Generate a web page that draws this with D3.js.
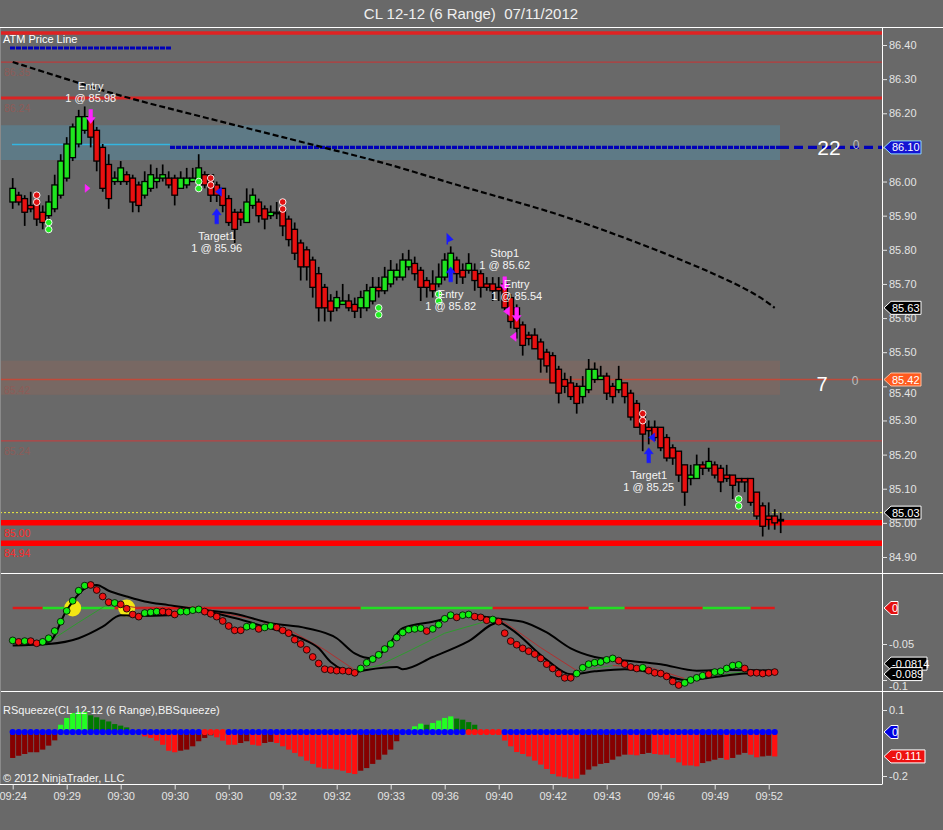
<!DOCTYPE html>
<html><head><meta charset="utf-8">
<script src="https://cdn.jsdelivr.net/npm/d3@7"></script>
<style>
body{margin:0;background:#696969;}
svg{display:block;font-family:"Liberation Sans",Arial,sans-serif;}
</style>
</head><body>
<svg id="c" width="943" height="830"></svg>
<script>
// ---------------- DATA ----------------
const chartTitle = "CL 12-12 (6 Range)  07/11/2012";
const opens = [
85.94,85.96,85.95,85.93,85.94,85.91,85.90,85.92,85.96,86.01,
86.07,86.11,86.15,86.18,86.15,86.10,86.05,86.00,86.00,86.02,
86.01,85.99,85.96,85.98,86.00,86.01,86.01,86.01,85.98,85.99,
86.00,86.00,86.02,86.02,85.99,85.98,85.95,85.91,85.91,85.88,
85.93,85.94,85.92,85.90,85.91,85.92,85.89,85.86,85.82,85.80,
85.77,85.73,85.69,85.65,85.63,85.64,85.65,85.64,85.63,85.63,
85.65,85.69,85.68,85.70,85.72,85.72,85.75,85.76,85.74,85.71,
85.70,85.70,85.72,85.74,85.77,85.74,85.74,85.74,85.73,85.70,
85.70,85.69,85.70,85.66,85.63,85.58,85.55,85.55,85.53,85.50,
85.49,85.45,85.42,85.41,85.40,85.37,85.39,85.42,85.42,85.43,
85.40,85.39,85.41,85.38,85.35,85.32,85.28,85.28,85.28,85.25,
85.22,85.21,85.17,85.13,85.13,85.17,85.16,85.17,85.16,85.14,
85.14,85.13,85.13,85.13,85.09,85.05,85.02,85.02,85.01];
const highs = [
86.01,85.97,85.96,85.97,85.96,85.93,85.96,86.02,86.08,86.13,
86.17,86.21,86.22,86.19,86.16,86.11,86.08,86.03,86.06,86.03,
86.02,86.00,86.03,86.05,86.04,86.05,86.03,86.02,86.03,86.04,
86.04,86.08,86.03,86.02,86.00,85.98,85.96,85.92,85.92,85.98,
85.98,85.95,85.93,85.93,85.94,85.92,85.90,85.88,85.83,85.81,
85.78,85.75,85.70,85.67,85.68,85.70,85.67,85.66,85.68,85.70,
85.72,85.72,85.75,85.77,85.76,85.79,85.80,85.78,85.75,85.72,
85.74,85.76,85.79,85.81,85.78,85.76,85.79,85.76,85.74,85.72,
85.72,85.72,85.71,85.67,85.64,85.59,85.56,85.57,85.54,85.51,
85.50,85.46,85.44,85.43,85.41,85.43,85.48,85.47,85.46,85.44,
85.41,85.46,85.41,85.39,85.36,85.33,85.30,85.30,85.28,85.26,
85.23,85.21,85.17,85.17,85.20,85.18,85.22,85.18,85.17,85.17,
85.14,85.13,85.13,85.13,85.09,85.06,85.06,85.04,85.03];
const lows = [
85.92,85.93,85.87,85.91,85.87,85.86,85.86,85.91,85.95,86.00,
86.06,86.10,86.14,86.10,86.03,85.97,85.92,85.99,85.99,85.99,
85.91,85.91,85.95,85.97,85.98,86.00,85.98,85.93,85.98,85.98,
86.00,85.99,85.98,85.94,85.94,85.91,85.87,85.82,85.87,85.88,
85.92,85.88,85.86,85.89,85.89,85.84,85.81,85.77,85.71,85.71,
85.66,85.59,85.59,85.59,85.62,85.64,85.62,85.60,85.60,85.62,
85.64,85.66,85.67,85.69,85.71,85.71,85.74,85.71,85.65,85.66,
85.66,85.69,85.71,85.71,85.70,85.70,85.73,85.68,85.66,85.68,
85.65,85.65,85.62,85.57,85.54,85.49,85.52,85.51,85.44,85.44,
85.41,85.35,85.38,85.36,85.32,85.35,85.38,85.41,85.42,85.36,
85.35,85.38,85.35,85.30,85.28,85.21,85.23,85.24,85.21,85.18,
85.17,85.12,85.05,85.11,85.13,85.14,85.15,85.13,85.09,85.12,
85.07,85.09,85.09,85.05,85.01,84.96,84.98,84.98,84.97];
const closes = [
85.98,85.94,85.91,85.92,85.89,85.88,85.94,85.99,86.06,86.11,
86.16,86.19,86.19,86.13,86.06,85.98,85.95,86.01,86.04,86.00,
85.94,85.93,86.00,86.02,86.01,86.02,85.99,85.96,86.01,86.01,
86.01,86.04,85.99,85.96,85.96,85.93,85.88,85.86,85.89,85.94,
85.96,85.90,85.89,85.91,85.91,85.87,85.83,85.79,85.75,85.75,
85.69,85.63,85.63,85.62,85.66,85.65,85.63,85.62,85.66,85.68,
85.69,85.68,85.72,85.74,85.74,85.77,85.77,85.73,85.69,85.69,
85.68,85.72,85.77,85.79,85.73,85.72,85.76,85.71,85.69,85.69,
85.68,85.68,85.63,85.59,85.57,85.52,85.54,85.51,85.48,85.46,
85.41,85.38,85.40,85.37,85.35,85.40,85.45,85.45,85.43,85.38,
85.37,85.42,85.37,85.31,85.28,85.26,85.27,85.25,85.22,85.19,
85.19,85.14,85.09,85.14,85.17,85.16,85.18,85.14,85.12,85.13,
85.11,85.12,85.12,85.06,85.02,84.99,85.01,85.00,85.01];

const timeLabels = ["09:24","09:29","09:30","09:30","09:30","09:32","09:32","09:33","09:36","09:40","09:42","09:43","09:46","09:49","09:52"];
const timeLabelBars = [0,9,18,27,36,45,54,63,72,81,90,99,108,117,126];
const priceTicks = [86.40,86.30,86.20,86.10,86.00,85.90,85.80,85.70,85.60,85.50,85.40,85.30,85.20,85.10,85.00,84.90];

// moving average (dashed)
const smaBars = [0,9,18,27,36,45,54,63,72,81,90,99,108,117,124,127];
const smaValues = [86.35,86.30,86.25,86.21,86.17,86.13,86.09,86.05,86.00,85.955,85.91,85.855,85.795,85.73,85.67,85.63];

// horizontal price levels
const levelPrices = [86.435,86.35,86.245,85.42,85.24,85.03,85.00,84.94];
const levelLabels = ["","86.35","86.24","85.42","85.24","","85.00","84.94"];
const atmPrice = 86.10;
const zoneBlue = [86.165,86.063];
const zoneRed = [85.475,85.375];

// signal dots
const redDotBars = [4,33,45,105];
const redDotPrices = [85.96,86.01,85.94,85.32];
const greenDotBars = [6,31,61,71,121];
const greenDotPrices = [85.88,86.00,85.63,85.67,85.07];

// execution markers
const markerKind = ["downM","upB","upB","upB","downM","downM","rightM","leftB","leftB","flagB","leftM","leftM"];
const markerBar = [13,34,106,73,82,84,12.4,34.3,106.5,72.6,82.3,83.4];
const markerPrice = [86.17,85.92,85.22,85.75,85.68,85.59,85.98,85.97,85.25,85.83,85.62,85.545];

// execution texts
const annoTitle = ["Entry","Target1","Entry","Stop1","Entry","Target1"];
const annoDetail = ["1 @ 85.98","1 @ 85.96","1 @ 85.82","1 @ 85.62","1 @ 85.54","1 @ 85.25"];
const annoBar = [13,34,73,82,84,106];
const annoPrice = [86.28,85.84,85.67,85.79,85.70,85.14];

// right axis tags
const priceTagValues = [86.10,85.63,85.42,85.03];
const priceTagTexts = ["86.10","85.63","85.42","85.03"];

// MACD-like panel
const macd = [
-0.045,-0.047,-0.046,-0.046,-0.049,-0.047,-0.042,-0.032,-0.019,-0.004,
0.010,0.024,0.031,0.032,0.025,0.016,0.008,0.007,0.005,-0.001,
-0.009,-0.012,-0.007,-0.006,-0.005,-0.005,-0.006,-0.009,-0.005,-0.005,
-0.003,-0.002,-0.005,-0.008,-0.012,-0.018,-0.025,-0.031,-0.031,-0.026,
-0.025,-0.029,-0.027,-0.025,-0.027,-0.031,-0.035,-0.044,-0.050,-0.058,
-0.068,-0.077,-0.085,-0.086,-0.087,-0.087,-0.088,-0.090,-0.084,-0.076,
-0.071,-0.065,-0.057,-0.050,-0.041,-0.034,-0.030,-0.029,-0.028,-0.032,
-0.029,-0.023,-0.015,-0.010,-0.013,-0.010,-0.009,-0.012,-0.013,-0.017,
-0.016,-0.019,-0.035,-0.046,-0.051,-0.056,-0.060,-0.064,-0.070,-0.078,
-0.084,-0.091,-0.097,-0.097,-0.091,-0.083,-0.078,-0.076,-0.075,-0.072,
-0.070,-0.073,-0.078,-0.082,-0.084,-0.083,-0.087,-0.090,-0.091,-0.095,
-0.102,-0.107,-0.104,-0.100,-0.097,-0.094,-0.092,-0.089,-0.088,-0.084,
-0.080,-0.079,-0.084,-0.090,-0.090,-0.091,-0.090,-0.089];
const macdColors =
"GRGRRGGGGG"+"GGGRRRRGRR"+"RRGGGRRRGG"+"GGRRRRRRRG"+"GRGGRRRRRR"+
"RRRRRRRRGG"+"GGGGGGGGGR"+"GGGGRGGRRR"+"GRRRRRRRRR"+"RRRRGGGGGG"+
"GRRRRGRRRR"+"RRGGGGRGGG"+"GGRRRRRR";
const upperBars = [0,6,9,12,14,16,19,22,26,31,37,43,49,54,57,60,62,65,70,76,81,85,89,93,97,102,108,114,119,127];
const upperValues = [-0.048,-0.047,-0.003,0.027,0.032,0.024,0.016,0.009,0.004,-0.002,-0.008,-0.021,-0.028,-0.042,-0.063,-0.070,-0.058,-0.028,-0.019,-0.010,-0.015,-0.019,-0.034,-0.056,-0.068,-0.073,-0.078,-0.087,-0.086,-0.087];
const lowerBars = [0,6,11,15,18,21,26,31,37,42,48,51,53,57,59,64,65,70,76,81,83,89,93,97,102,108,112,117,122,127];
const lowerValues = [-0.052,-0.050,-0.042,-0.026,-0.010,-0.011,-0.010,-0.004,-0.014,-0.026,-0.042,-0.056,-0.075,-0.089,-0.086,-0.082,-0.085,-0.068,-0.046,-0.020,-0.029,-0.072,-0.092,-0.088,-0.085,-0.092,-0.100,-0.096,-0.091,-0.090];
const signalBars = [0,6,11,16,22,28,32,40,46,52,57,61,66,72,80,82,88,94,100,106,112,118,123,127];
const signalValues = [-0.047,-0.047,-0.020,0.006,-0.001,-0.003,-0.003,-0.015,-0.030,-0.058,-0.086,-0.080,-0.060,-0.035,-0.016,-0.020,-0.055,-0.087,-0.080,-0.082,-0.098,-0.092,-0.088,-0.090];
const zeroSegStart = [0,5,17,58,80,96,102,115,123];
const zeroSegEnd   = [5,17,58,80,96,102,115,123,127];
const zeroSegColor = ["R","G","R","G","R","G","R","G","R"];
const crossBars = [10,19];

// squeeze panel
const sqz = [
-0.118,-0.108,-0.100,-0.092,-0.092,-0.080,-0.062,-0.038,0.033,0.064,
0.086,0.091,0.091,0.076,0.067,0.056,0.048,0.036,0.029,0.021,
0.005,-0.005,-0.020,-0.027,-0.039,-0.058,-0.085,-0.092,-0.085,-0.080,
-0.065,-0.042,-0.027,-0.015,-0.024,-0.039,-0.058,-0.058,-0.050,-0.042,
-0.058,-0.062,-0.050,-0.045,-0.050,-0.065,-0.080,-0.095,-0.111,-0.130,
-0.145,-0.161,-0.167,-0.167,-0.171,-0.176,-0.186,-0.191,-0.176,-0.164,
-0.145,-0.126,-0.103,-0.080,-0.042,0.000,0.011,0.026,0.038,0.033,
0.041,0.052,0.064,0.071,0.061,0.056,0.045,0.033,-0.005,-0.008,
-0.009,-0.012,-0.039,-0.065,-0.091,-0.100,-0.111,-0.130,-0.148,-0.168,
-0.191,-0.202,-0.206,-0.212,-0.212,-0.194,-0.171,-0.156,-0.145,-0.141,
-0.126,-0.111,-0.103,-0.103,-0.106,-0.100,-0.095,-0.100,-0.103,-0.103,
-0.118,-0.138,-0.152,-0.152,-0.156,-0.141,-0.133,-0.126,-0.118,-0.126,
-0.118,-0.103,-0.095,-0.103,-0.115,-0.111,-0.108,-0.111];
const sqzColors =
"rrrrrrrrGG"+"GGGggggggg"+"gRRRRRRRrr"+"rrrrRRRRrr"+"RRrrRRRRRR"+
"RRRRRRRRrr"+"rrrrrrGGGg"+"GGGGggggRR"+"RRRRRRRRRR"+"RRRRRrrrrr"+
"rrrRRrrRRR"+"RRRRRrrrrR"+"rrrRRrrR";
const sqzDotState =
"bbbbbbbbbb"+"bbbbbbbbbb"+"bbbbbbbbbb"+"bbrrrrbbbb"+"bbbbbbbbbb"+
"bbbbbbbbbb"+"bbbbbbbbbb"+"bbbbbbrrrr"+"rrbbbbbbbb"+"bbbbbbbbbb"+
"bbbbbbbbbb"+"bbbbbbbbbb"+"bbbbbbbb";

// ---------------- DRAW ----------------
const W = 943, H = 830, RX = 882;
const svg = d3.select("#c");
const x = d3.scaleLinear().domain([0,128]).range([12.7,780.7]);
const y = d3.scaleLinear().domain([84.90,86.40]).range([557,45]);
const ym = d3.scaleLinear().domain([-0.1,0]).range([680,608]);
const ys = d3.scaleLinear().domain([-0.2,0.1]).range([776,710]);
const BG = "#696969";

svg.append("rect").attr("width",W).attr("height",H).attr("fill",BG);
svg.append("text").attr("x",471).attr("y",19).attr("text-anchor","middle")
  .attr("fill","#f0f0f0").attr("font-size",15).style("white-space","pre").text(chartTitle);

const defs = svg.append("defs");
defs.append("clipPath").attr("id","cp").append("rect").attr("x",0).attr("y",28).attr("width",RX).attr("height",545);
const P = svg.append("g").attr("clip-path","url(#cp)");

// zones
P.append("rect").attr("x",0).attr("width",780).attr("y",y(zoneBlue[0])).attr("height",y(zoneBlue[1])-y(zoneBlue[0])).attr("fill","#5e7a86");
P.append("rect").attr("x",0).attr("width",780).attr("y",y(zoneRed[0])).attr("height",y(zoneRed[1])-y(zoneRed[0])).attr("fill","#786863");

// level lines
const levelStyle = [
 {w:3.5,c:"#e02222"},{w:1.2,c:"#b83c3c"},{w:3,c:"#d92424"},{w:1.6,c:"#c04a3a"},
 {w:1.3,c:"#b84444"},{w:1,c:"#f0f040",dash:"2,2"},{w:5.5,c:"#ff0000"},{w:5.5,c:"#ff0000"}];
levelPrices.forEach((p,i)=>{
  const s=levelStyle[i];
  P.append("line").attr("x1",0).attr("x2",RX).attr("y1",y(p)).attr("y2",y(p))
   .attr("stroke",s.c).attr("stroke-width",s.w).attr("stroke-dasharray",s.dash||null);
  if(levelLabels[i]){
    const bright = i>=6;
    P.append("text").attr("x",4).attr("y",y(p)+14).attr("font-size",10.5)
     .attr("fill",bright?"#ff2a2a":"#8d5c58").text(levelLabels[i]);
  }
});

// cyan line + ATM dashed line
P.append("line").attr("x1",12).attr("x2",170).attr("y1",y(atmPrice)-3).attr("y2",y(atmPrice)-3).attr("stroke","#33b5e0").attr("stroke-width",1.5);
P.append("line").attr("x1",170).attr("x2",780).attr("y1",y(atmPrice)).attr("y2",y(atmPrice))
  .attr("stroke","#0000b8").attr("stroke-width",3.2).attr("stroke-dasharray","5,1");
P.append("line").attr("x1",780).attr("x2",RX).attr("y1",y(atmPrice)).attr("y2",y(atmPrice))
  .attr("stroke","#0000b8").attr("stroke-width",3.2).attr("stroke-dasharray","9,5");

// legend
svg.append("text").attr("x",3).attr("y",43).attr("fill","#ffffff").attr("font-size",11).text("ATM Price Line");
svg.append("line").attr("x1",10).attr("x2",171).attr("y1",48).attr("y2",48).attr("stroke","#0000b8").attr("stroke-width",3).attr("stroke-dasharray","5,1");

// SMA dashed
const smaLine = d3.line().x((d,i)=>x(smaBars[i])).y(d=>y(d)).curve(d3.curveBasis);
P.append("path").attr("d",smaLine(smaValues)).attr("fill","none").attr("stroke","#000").attr("stroke-width",2.2).attr("stroke-dasharray","6,3");

// labels 22 / 7
P.append("text").attr("x",829).attr("y",y(atmPrice)+8).attr("text-anchor","middle").attr("fill","#fff").attr("font-size",21).text("22");
P.append("text").attr("x",856).attr("y",y(atmPrice)+2).attr("text-anchor","middle").attr("fill","#bdbdbd").attr("font-size",12).text("0");
P.append("text").attr("x",822).attr("y",y(85.42)+11).attr("text-anchor","middle").attr("fill","#fff").attr("font-size",20).text("7");
P.append("text").attr("x",855).attr("y",y(85.42)+5).attr("text-anchor","middle").attr("fill","#bdbdbd").attr("font-size",12).text("0");

// candles
const bars = d3.range(closes.length);
P.selectAll("line.wick").data(bars).join("line").attr("class","wick")
  .attr("x1",i=>x(i)).attr("x2",i=>x(i)).attr("y1",i=>y(highs[i])).attr("y2",i=>y(lows[i]))
  .attr("stroke","#000").attr("stroke-width",1.7);
P.selectAll("rect.body").data(bars).join("rect").attr("class","body")
  .attr("x",i=>x(i)-2.8).attr("width",5.6)
  .attr("y",i=>y(Math.max(opens[i],closes[i])))
  .attr("height",i=>Math.max(1.5,Math.abs(y(opens[i])-y(closes[i]))))
  .attr("fill",i=>closes[i]>opens[i]?"#1fe41f":(closes[i]<opens[i]?"#e81010":"#000"))
  .attr("stroke","#000").attr("stroke-width",1.3);

// signal dots
function dotPair(bar,price,fill){
  [0,7].forEach(o=>P.append("circle").attr("cx",x(bar)).attr("cy",y(price)+o).attr("r",3.3)
    .attr("fill",fill).attr("stroke","#fff").attr("stroke-width",0.9));
}
redDotBars.forEach((b,i)=>dotPair(b,redDotPrices[i],"#e01010"));
greenDotBars.forEach((b,i)=>dotPair(b,greenDotPrices[i],"#22ee22"));

// markers
markerKind.forEach((k,i)=>{
  const cx=x(markerBar[i]), ty=y(markerPrice[i]);
  const col = k.endsWith("M")?"#ff22ff":"#1a1aff";
  let d;
  if(k==="upB") d=`M${cx},${ty} L${cx+4.5},${ty+6} L${cx+1.8},${ty+6} L${cx+1.8},${ty+15} L${cx-1.8},${ty+15} L${cx-1.8},${ty+6} L${cx-4.5},${ty+6} Z`;
  else if(k==="downM") d=`M${cx},${ty} L${cx+4.5},${ty-6} L${cx+1.8},${ty-6} L${cx+1.8},${ty-14} L${cx-1.8},${ty-14} L${cx-1.8},${ty-6} L${cx-4.5},${ty-6} Z`;
  else if(k==="rightM") d=`M${cx-2},${ty-4} L${cx+3},${ty} L${cx-2},${ty+4} Z`;
  else if(k.startsWith("left")) d=`M${cx+3},${ty-4.5} L${cx-3},${ty} L${cx+3},${ty+4.5} Z`;
  else if(k==="flagB") d=`M${cx-1},${ty-5} L${cx+4},${ty} L${cx-1},${ty+2} Z M${cx-1},${ty-5} L${cx-1},${ty+5}`;
  P.append("path").attr("d",d).attr("fill",col).attr("stroke",col).attr("stroke-width",k==="flagB"?1.5:0.5);
});

// annotation texts
annoTitle.forEach((t,i)=>{
  const cx=x(annoBar[i]), cy=y(annoPrice[i]);
  P.append("text").attr("x",cx).attr("y",cy+4).attr("text-anchor","middle").attr("fill","#f4f4f4").attr("font-size",11).text(t);
  P.append("text").attr("x",cx).attr("y",cy+16).attr("text-anchor","middle").attr("fill","#f4f4f4").attr("font-size",11).text(annoDetail[i]);
});

// ---------- MACD panel ----------
const M = svg.append("g");
zeroSegStart.forEach((s,i)=>{
  M.append("line").attr("x1",x(s)).attr("x2",x(zeroSegEnd[i])).attr("y1",ym(0)).attr("y2",ym(0))
   .attr("stroke",zeroSegColor[i]==="G"?"#22dd22":"#e01818").attr("stroke-width",2.5);
});
crossBars.forEach(b=>M.append("circle").attr("cx",x(b)).attr("cy",ym(0)).attr("r",8.5).attr("fill","#f2e614"));
signalValues.slice(1).forEach((v,j)=>{
  const a=[signalValues[j],v];
  M.append("path").attr("d",d3.line().x((d,k)=>x(signalBars[j+k])).y(d=>ym(d))(a))
   .attr("fill","none").attr("stroke",v>=signalValues[j]?"#2f9a2f":"#b03030").attr("stroke-width",1);
});
const upLine = d3.line().x((d,i)=>x(upperBars[i])).y(d=>ym(d)).curve(d3.curveMonotoneX);
const loLine = d3.line().x((d,i)=>x(lowerBars[i])).y(d=>ym(d)).curve(d3.curveMonotoneX);
M.append("path").attr("d",upLine(upperValues)).attr("fill","none").attr("stroke","#000").attr("stroke-width",2);
M.append("path").attr("d",loLine(lowerValues)).attr("fill","none").attr("stroke","#000").attr("stroke-width",2);
M.selectAll("circle.md").data(macd).join("circle").attr("class","md")
  .attr("cx",(d,i)=>x(i)).attr("cy",d=>ym(d)).attr("r",3.4)
  .attr("fill",(d,i)=>macdColors[i]==="G"?"#11ee11":"#ee1111").attr("stroke","#000").attr("stroke-width",0.8);

// ---------- Squeeze panel ----------
const S = svg.append("g");
const sqzFill = {G:"#22ff22",g:"#007a00",R:"#ff1010",r:"#860000"};
S.selectAll("rect.sq").data(sqz).join("rect").attr("class","sq")
  .attr("x",(d,i)=>x(i)-2.6).attr("width",5.2)
  .attr("y",d=>Math.min(ys(0),ys(d))).attr("height",d=>Math.abs(ys(d)-ys(0)))
  .attr("fill",(d,i)=>sqzFill[sqzColors[i]]);
S.selectAll("circle.sd").data(sqz).join("circle").attr("class","sd")
  .attr("cx",(d,i)=>x(i)).attr("cy",ys(0)).attr("r",3.1)
  .attr("fill",(d,i)=>sqzDotState[i]==="b"?"#0000ff":"#ff1010");
svg.append("text").attr("x",3).attr("y",714).attr("fill","#f4f4f4").attr("font-size",11).text("RSqueeze(CL 12-12 (6 Range),BBSqueeze)");
svg.append("text").attr("x",3).attr("y",782).attr("fill","#f4f4f4").attr("font-size",11).text("\u00a9 2012 NinjaTrader, LLC");

// ---------- borders ----------
const B = svg.append("g").attr("stroke","#ffffff").attr("stroke-width",1);
B.append("line").attr("x1",0).attr("x2",W).attr("y1",27.5).attr("y2",27.5);
B.append("line").attr("x1",0).attr("x2",W).attr("y1",573.5).attr("y2",573.5);
B.append("line").attr("x1",0).attr("x2",W).attr("y1",691.5).attr("y2",691.5);
B.append("line").attr("x1",0).attr("x2",RX).attr("y1",784.5).attr("y2",784.5);
B.append("line").attr("x1",RX+0.5).attr("x2",RX+0.5).attr("y1",27.5).attr("y2",784.5);
svg.append("line").attr("x1",0.5).attr("x2",0.5).attr("y1",28).attr("y2",784).attr("stroke","#8a8a8a");

// ---------- axes ----------
function styleAxis(g){
  g.select(".domain").remove();
  g.attr("color","#e4e4e4").attr("font-family","'Liberation Sans',Arial,sans-serif").attr("font-size",11);
  g.selectAll("text").attr("fill","#e4e4e4");
}
const ax = svg.append("g").attr("transform",`translate(${RX},0)`)
  .call(d3.axisRight(y).tickValues(priceTicks).tickSize(5).tickPadding(2).tickFormat(d=>d.toFixed(2)));
styleAxis(ax);
// the tick label hidden under the ATM tag in the reference
ax.selectAll(".tick").filter(d=>Math.abs(d-atmPrice)<1e-6).select("text").remove();
// labels partly covered by tags: nudge slightly below the tag
ax.selectAll(".tick").filter(d=>Math.abs(d-85.40)<1e-6).select("text").attr("dy","0.95em");
const axm = svg.append("g").attr("transform",`translate(${RX},0)`)
  .call(d3.axisRight(ym).tickValues([-0.05,-0.1]).tickSize(5).tickPadding(2).tickFormat(d=>String(d)));
styleAxis(axm);
axm.selectAll(".tick").filter(d=>d===-0.1).select("text").attr("dy","0.9em");
const axs = svg.append("g").attr("transform",`translate(${RX},0)`)
  .call(d3.axisRight(ys).tickValues([0.1,-0.2]).tickSize(5).tickPadding(2).tickFormat(d=>String(d)));
styleAxis(axs);
const axx = svg.append("g").attr("transform","translate(0,784.5)")
  .call(d3.axisBottom(x).tickValues(timeLabelBars).tickSize(5).tickPadding(3).tickFormat((d,i)=>timeLabels[i]));
styleAxis(axx);

// ---------- tags ----------
function tag(yy, txt, fill, stroke, w){
  const x0=RX+2, h=13;
  const g=svg.append("g");
  g.append("path").attr("d",`M${x0},${yy} L${x0+7},${yy-h/2} L${x0+w},${yy-h/2} L${x0+w},${yy+h/2} L${x0+7},${yy+h/2} Z`)
   .attr("fill",fill).attr("stroke",stroke).attr("stroke-width",1);
  g.append("text").attr("x",x0+8).attr("y",yy+4).attr("fill","#fff").attr("font-size",11).text(txt);
}
const tagFill = ["#1414d2","#000000","#ff5a1e","#000000"];
const tagStroke = ["#8fdcff","#ffffff","#ffc0a0","#ffffff"];
priceTagValues.forEach((v,i)=>tag(y(v),priceTagTexts[i],tagFill[i],tagStroke[i],37));
tag(ym(0),"0","#e41010","#ffffff",14);
tag(ym(-0.0814)-3,"-0.0814","#000","#ffffff",43);
tag(ym(macd[macd.length-1])+2,String(macd[macd.length-1]),"#000","#ffffff",38);
tag(ys(0),"0","#0000e0","#ffffff",14);
tag(ys(sqz[sqz.length-1]),String(sqz[sqz.length-1]),"#ee1010","#ffffff",41);
</script>
</body></html>
